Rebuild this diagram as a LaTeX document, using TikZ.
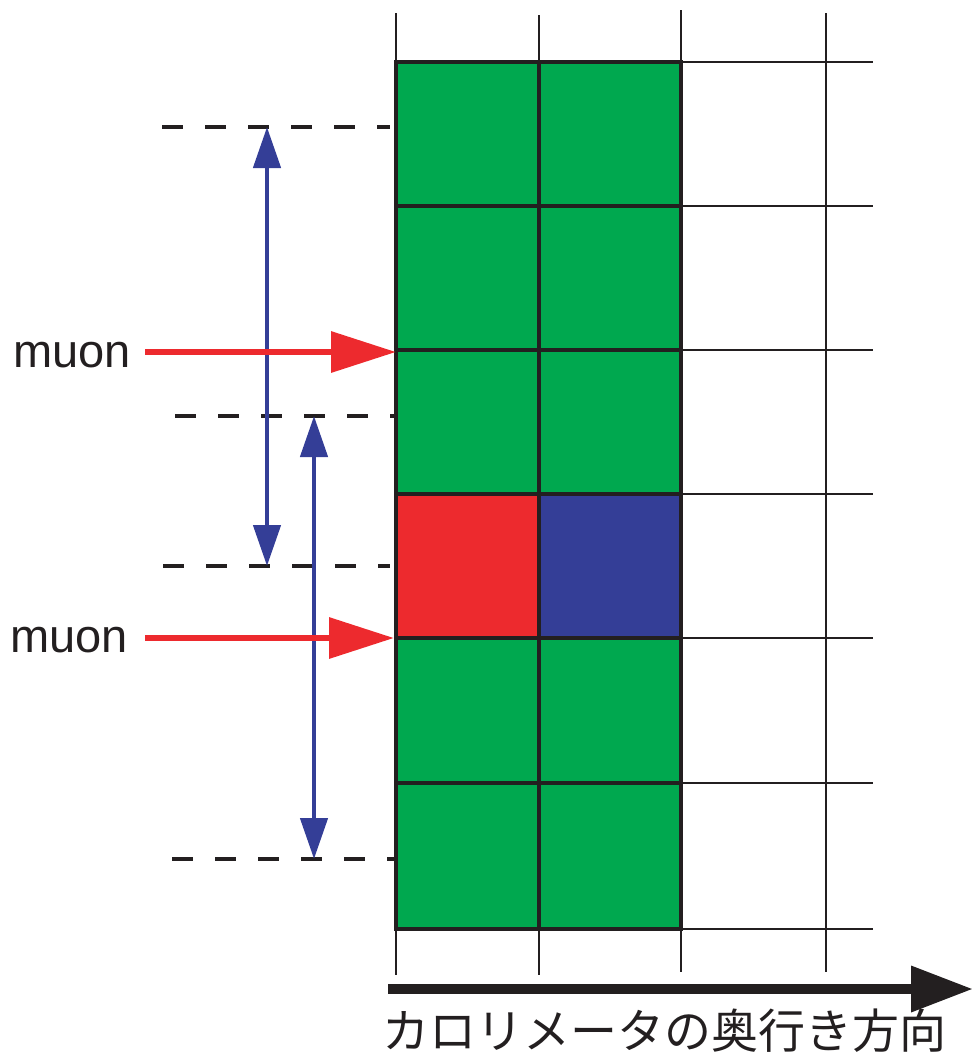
\documentclass[tikz,border=0pt]{standalone}
\usepackage{fontspec}
\setmainfont{Liberation Sans}
\newfontfamily\cjk{Noto Sans CJK JP}
\usetikzlibrary{arrows.meta}
\definecolor{cgreen}{RGB}{0,168,79}
\definecolor{cred}{RGB}{237,42,46}
\definecolor{cblue}{RGB}{52,62,151}
\definecolor{cblack}{RGB}{35,31,32}
\tikzset{
  gridline/.style={draw=cblack,line width=2.5pt},
  cellbox/.style={draw=cblack,line width=4.2pt},
  dashline/.style={draw=cblack,line width=4.6pt,dash pattern=on 21pt off 22pt},
  spanarrow/.style={draw=cblue,line width=4.6pt,{Triangle[length=41pt,width=27pt]}-{Triangle[length=41pt,width=27pt]}},
  muonarrow/.style={draw=cred,line width=6.5pt,-{Triangle[length=65pt,width=40pt]}},
  axisarrow/.style={draw=cblack,line width=10pt,-{Triangle[length=62pt,width=44pt]}},
  lab/.style={inner sep=0pt,font=\fontsize{47pt}{50pt}\selectfont,text=cblack},
}
\begin{document}
\begin{tikzpicture}[x=1pt,y=-1pt]
\useasboundingbox (0,0) rectangle (973,1053);
% thin grid
\foreach \x/\a/\b in {396/13/975,539/15/975,681/10/972,826/13/972}
  \draw[gridline] (\x,\a) -- (\x,\b);
\foreach \y in {62,206,350,494,638,783,929}
  \draw[gridline] (396,\y) -- (873,\y);
% coloured cells
\foreach \y/\z in {62/206,206/350,350/494,638/783,783/929}{
  \filldraw[cellbox,fill=cgreen] (396,\y) rectangle (539,\z);
  \filldraw[cellbox,fill=cgreen] (539,\y) rectangle (681,\z);
}
\filldraw[cellbox,fill=cred] (396,494) rectangle (539,638);
\filldraw[cellbox,fill=cblue] (539,494) rectangle (681,638);
% dashed guides
\coordinate (d1a) at (162,127); \coordinate (d1b) at (390,127);
\coordinate (d2a) at (175,416); \coordinate (d2b) at (396,416);
\coordinate (d3a) at (163,566); \coordinate (d3b) at (390,566);
\coordinate (d4a) at (172,859); \coordinate (d4b) at (396,859);
\draw[dashline] (d1a) -- (d1b);
\draw[dashline] (d2a) -- (d2b);
\draw[dashline] (d3a) -- (d3b);
\draw[dashline] (d4a) -- (d4b);
% blue span arrows
\coordinate (s1t) at (267,127); \coordinate (s1b) at (267,566);
\coordinate (s2t) at (314,416); \coordinate (s2b) at (314,859);
\draw[spanarrow] (s1t) -- (s1b);
\draw[spanarrow] (s2t) -- (s2b);
% muons
\node[lab] (m1) at (72,355) {muon};
\node[lab] (m2) at (69,640) {muon};
\coordinate (h1) at (396,352);
\coordinate (h2) at (394,638);
\draw[muonarrow] (145,352) -- (h1);
\draw[muonarrow] (145,638) -- (h2);
% depth axis
\coordinate (ax0) at (388,989);
\coordinate (ax1) at (973,989);
\draw[axisarrow] (ax0) -- (ax1);
\node[inner sep=0pt,font=\cjk\fontsize{47pt}{50pt}\selectfont,text=cblack] (ax) at (664,1031) {カロリメータの奥行き方向};
\end{tikzpicture}
\end{document}
